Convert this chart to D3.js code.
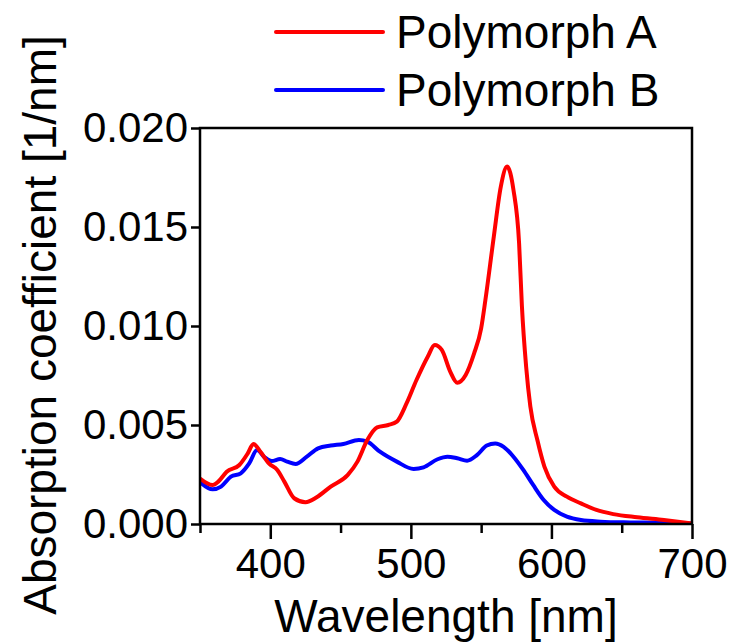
<!DOCTYPE html>
<html><head><meta charset="utf-8">
<script src="https://cdn.jsdelivr.net/npm/d3@7"></script>
<style>body{margin:0;background:#fff}svg{display:block}text{font-family:"Liberation Sans",Arial,sans-serif;fill:#000}</style>
</head><body><svg id="c" width="732" height="644"></svg>
<script>
const seriesNames = ["Polymorph A","Polymorph B"];
const seriesColors = ["#ff0000","#0000ff"];
const wlA = [350,359,363,369,378,384,388,393,399,405,410,417,425,433,443,455,462,469,476,484,490,497,504,512,517,522,528,533,539,545,550,553,559,564,568.5,573,577,579,582,585,590,595,602,611,621,632,644,661,680,700];
const valA = [0.00230,0.00197,0.00214,0.00264,0.00298,0.00357,0.00404,0.00365,0.00306,0.00273,0.00214,0.00130,0.00110,0.00135,0.00189,0.00247,0.00315,0.00424,0.00488,0.00500,0.00517,0.00610,0.00727,0.00845,0.00904,0.00879,0.00770,0.00714,0.00753,0.00862,0.00988,0.01130,0.01451,0.01704,0.01805,0.01687,0.01418,0.01100,0.00795,0.00593,0.00424,0.00290,0.00189,0.00138,0.00104,0.00071,0.00050,0.00034,0.00020,0.00003];
const wlB = [350,359,365,372,379,385,390.6,396,401,407,412,418,426,434,443,452,463,469,478,490,502,509,519,526,533,540,547,554,560,566,573,580,587,594.5,602,611,621,635,656,680,700];
const valB = [0.00212,0.00175,0.00189,0.00239,0.00256,0.00306,0.00374,0.00337,0.00318,0.00328,0.00315,0.00303,0.00340,0.00382,0.00396,0.00404,0.00424,0.00416,0.00365,0.00315,0.00278,0.00286,0.00327,0.00340,0.00332,0.00320,0.00348,0.00396,0.00407,0.00390,0.00340,0.00273,0.00197,0.00121,0.00071,0.00037,0.00020,0.00012,0.00008,0.00006,0.00003];
const xMajorTicks = [400,500,600,700];
const xMinorTicks = [350,450,550,650];
const yTicks = [0,0.005,0.010,0.015,0.020];
const xTitle = "Wavelength [nm]";
const yTitle = "Absorption coefficient [1/nm]";

const svg = d3.select("#c");
const L=200, R=692, T=128, B=524;
const x = d3.scaleLinear().domain([350,700]).range([L,R]);
const y = d3.scaleLinear().domain([0,0.02]).range([B,T]);

const plot = svg.append("g");
plot.append("defs").append("clipPath").attr("id","clip").append("rect").attr("x",L).attr("y",T).attr("width",R-L).attr("height",B-T);
const line = d3.line().x(d=>x(d[0])).y(d=>y(d[1])).curve(d3.curveMonotoneX);
const dataB = wlB.map((w,i)=>[w,valB[i]]);
const dataA = wlA.map((w,i)=>[w,valA[i]]);
[dataB, dataA].forEach((d,i)=>{
  plot.append("path").attr("d",line(d)).attr("fill","none").attr("clip-path","url(#clip)")
    .attr("stroke", i===0?seriesColors[1]:seriesColors[0]).attr("stroke-width",4).attr("stroke-linejoin","round");
});

// frame
svg.append("rect").attr("x",L).attr("y",T).attr("width",R-L).attr("height",B-T).attr("fill","none").attr("stroke","#000").attr("stroke-width",2.5);

// x axis
const gx = svg.append("g").attr("transform",`translate(0,${B})`)
  .call(d3.axisBottom(x).tickValues(xMajorTicks).tickSize(15).tickPadding(9).tickFormat(d3.format("d")));
gx.select(".domain").remove();
gx.selectAll("line").attr("stroke-width",2.5);
gx.selectAll("text").attr("font-size",42).attr("font-family","Liberation Sans, Arial, sans-serif");
const gxm = svg.append("g").attr("transform",`translate(0,${B})`)
  .call(d3.axisBottom(x).tickValues(xMinorTicks).tickSize(9).tickFormat(""));
gxm.select(".domain").remove();
gxm.selectAll("line").attr("stroke-width",2.5);

// y axis
const gy = svg.append("g").attr("transform",`translate(${L},0)`)
  .call(d3.axisLeft(y).tickValues(yTicks).tickSize(9).tickPadding(3).tickFormat(d3.format(".3f")));
gy.select(".domain").remove();
gy.selectAll("line").attr("stroke-width",2.5);
gy.selectAll("text").attr("font-size",42).attr("font-family","Liberation Sans, Arial, sans-serif");

svg.append("text").attr("x",(L+R)/2).attr("y",632).attr("text-anchor","middle").attr("font-size",46).text(xTitle);
svg.append("text").attr("transform","translate(56,325) rotate(-90)").attr("text-anchor","middle").attr("font-size",46).text(yTitle);

// legend
const legY=[32,90];
seriesNames.forEach((n,i)=>{
  svg.append("line").attr("x1",276).attr("x2",383).attr("y1",legY[i]).attr("y2",legY[i]).attr("stroke",seriesColors[i]).attr("stroke-width",4).attr("stroke-linecap","round");
  svg.append("text").attr("x",396).attr("y",legY[i]+16).attr("font-size",46).text(n);
});
</script></body></html>
